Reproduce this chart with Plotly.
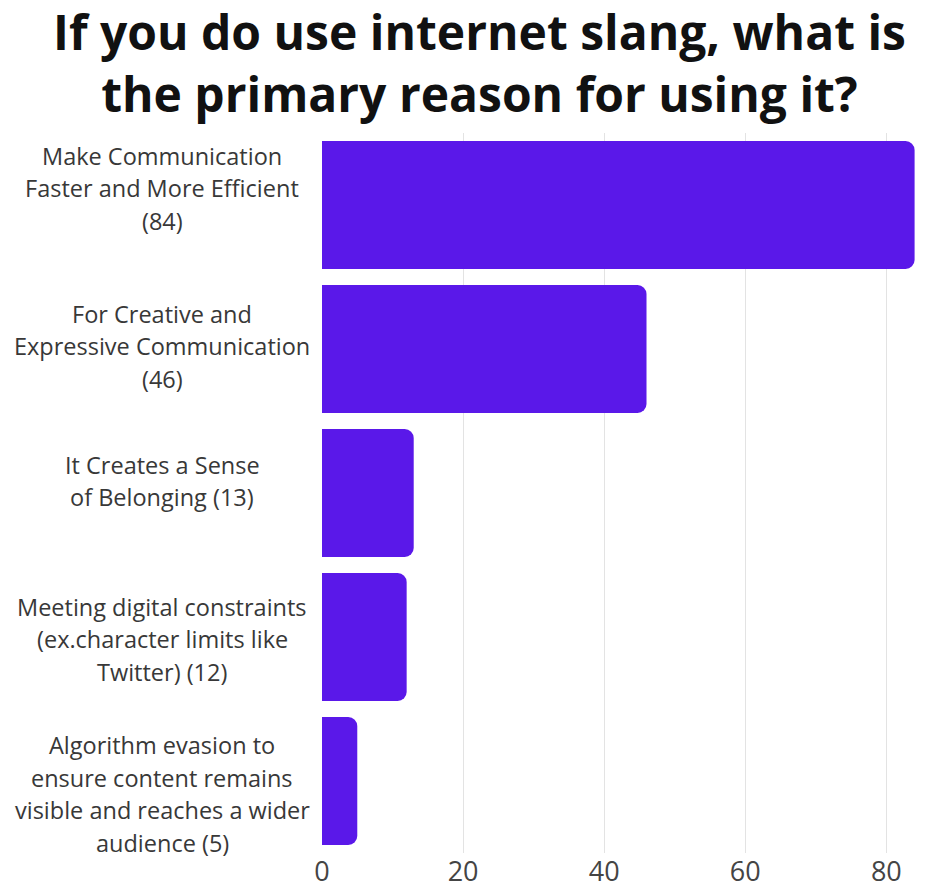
import plotly.graph_objects as go

# Survey responses: primary reason for using internet slang
categories = [
    "Make Communication<br>Faster and More Efficient<br>(84)",
    "For Creative and<br>Expressive Communication<br>(46)",
    "It Creates a Sense<br>of Belonging (13)",
    "Meeting digital constraints<br>(ex.character limits like<br>Twitter) (12)",
    "Algorithm evasion to<br>ensure content remains<br>visible and reaches a wider<br>audience (5)",
]
counts = [84, 46, 13, 12, 5]
x_ticks = [0, 20, 40, 60, 80]
title_text = "If you do use internet slang, what is<br>the primary reason for using it?"

BAR_COLOR = "#5A18E9"
TEXT_COLOR = "#383838"
LABEL_FONT = "Open Sans"
LINE_PX = 32.5
# vertical nudge (px, positive = down) of each label block relative to its bar
LABEL_NUDGE = [-17, -3, -12, 2, 13]

W, H = 944, 888
L, R, T, B = 322, 28, 133, 35
plot_w = W - L - R
plot_h = H - T - B


def px_to_paper_x(px):
    return (px - L) / plot_w


def px_to_paper_y(py):
    return (H - B - py) / plot_h


fig = go.Figure(
    go.Bar(
        x=counts,
        y=categories,
        orientation="h",
        marker=dict(color=BAR_COLOR, cornerradius=9, line=dict(width=0)),
        hoverinfo="x",
    )
)

# Multi-line category labels, centred in the left margin, one annotation per line
annotations = []
for cat, nudge in zip(categories, LABEL_NUDGE):
    lines = cat.split("<br>")
    n = len(lines)
    for i, line in enumerate(lines):
        annotations.append(
            dict(
                x=px_to_paper_x(162), xref="paper", xanchor="center",
                y=cat, yref="y", yanchor="middle",
                yshift=((n - 1) / 2 - i) * LINE_PX - nudge,
                text=line, showarrow=False,
                font=dict(family=LABEL_FONT, size=23.5, color=TEXT_COLOR),
            )
        )

# Chart heading
annotations.append(
    dict(
        x=px_to_paper_x(479), xref="paper", xanchor="center",
        y=px_to_paper_y(63), yref="paper", yanchor="middle",
        text="<b>" + title_text + "</b>", showarrow=False,
        borderpad=0,
        font=dict(family="Open Sans", size=48, color="#111111"),
    )
)

fig.update_layout(
    width=W, height=H,
    margin=dict(l=L, r=R, t=T, b=B, pad=0, autoexpand=False),
    paper_bgcolor="white", plot_bgcolor="white",
    bargap=0.111,
    showlegend=False,
    xaxis=dict(
        range=[0, 84.2],
        tickvals=x_ticks,
        automargin=False,
        showgrid=True, gridcolor="#e3e3e3", gridwidth=1,
        zeroline=False, showline=False, ticks="",
        ticklabelstandoff=0,
        tickfont=dict(family=LABEL_FONT, size=27, color="#444444"),
        fixedrange=True,
    ),
    yaxis=dict(
        categoryorder="array", categoryarray=categories,
        autorange="reversed",
        automargin=False,
        showticklabels=False, showgrid=False, zeroline=False, ticks="",
        fixedrange=True,
    ),
    annotations=annotations,
)

fig.write_html("out.html")
